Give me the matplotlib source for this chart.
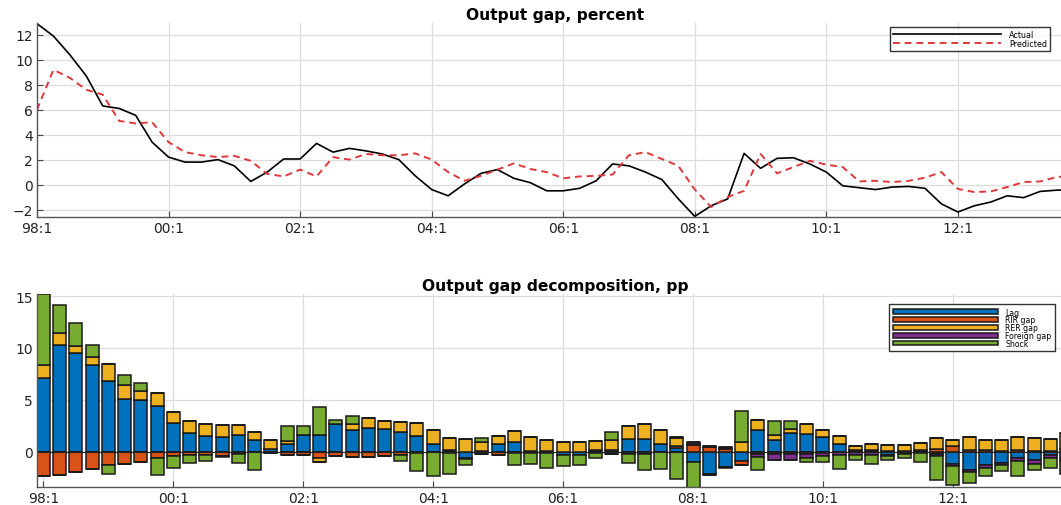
import numpy as np
import matplotlib
matplotlib.use("Agg")
import matplotlib.pyplot as plt

# quarterly data, 98:1 onward
actual = [12.9, 11.9, 10.4, 8.7, 6.3, 6.1, 5.55, 3.4, 2.2, 1.8,
          1.8, 2.0, 1.5, 0.25, 1.0, 2.05, 2.05, 3.3, 2.6, 2.9,
          2.7, 2.45, 2.0, 0.7, -0.4, -0.9, 0.05, 0.9, 1.2, 0.5,
          0.15, -0.5, -0.5, -0.3, 0.3, 1.65, 1.5, 1.0, 0.4, -1.15,
          -2.55, -1.7, -1.15, 2.5, 1.3, 2.1, 2.15, 1.65, 1.0, -0.1,
          -0.25, -0.4, -0.2, -0.15, -0.3, -1.55, -2.2, -1.7, -1.4, -0.9,
          -1.05, -0.55, -0.45, -0.4]
predicted = [6.0, 9.2, 8.55, 7.6, 7.2, 5.1, 4.9, 5.0, 3.4, 2.6,
             2.35, 2.2, 2.3, 1.9, 0.85, 0.65, 1.2, 0.65, 2.2, 2.0,
             2.45, 2.35, 2.35, 2.5, 2.0, 1.0, 0.3, 0.7, 1.2, 1.7,
             1.25, 1.0, 0.5, 0.65, 0.7, 0.8, 2.35, 2.6, 2.05, 1.5,
             -0.4, -1.8, -1.0, -0.5, 2.45, 0.9, 1.4, 1.9, 1.6, 1.4,
             0.25, 0.3, 0.2, 0.3, 0.55, 1.0, -0.35, -0.6, -0.55, -0.2,
             0.2, 0.25, 0.6, 0.7]

lag = [7.1, 10.3, 9.5, 8.4, 6.85, 5.1, 4.95, 4.4, 2.75, 1.8,
       1.5, 1.45, 1.65, 1.15, 0.25, 0.75, 1.65, 1.65, 2.7, 2.1,
       2.3, 2.2, 1.9, 1.55, 0.7, 0.2, -0.65, 0.05, 0.77, 0.93,
       0.1, 0.1, -0.3, -0.3, 0.2, 0.2, 1.25, 1.2, 0.75, 0.4,
       -1.0, -2.1, -1.5, -0.85, 2.05, 1.1, 1.8, 1.75, 1.4, 0.75,
       0.1, 0.2, -0.3, -0.15, 0.1, -0.2, -1.15, -1.75, -1.3, -1.05,
       -0.6, -0.75, -0.35, -0.6]
rir_gap = [-2.3, -2.2, -1.95, -1.65, -1.3, -1.15, -1.0, -0.6, -0.4, -0.3,
           -0.3, -0.45, -0.2, -0.05, -0.15, -0.35, -0.35, -0.6, -0.45, -0.5,
           -0.55, -0.45, -0.35, -0.15, -0.05, -0.1, -0.05, -0.25, -0.35, -0.1,
           -0.1, -0.15, -0.05, -0.05, -0.15, -0.2, -0.2, -0.2, -0.05, 0.15,
           0.6, 0.45, 0.3, -0.45, -0.2, -0.25, -0.25, -0.25, -0.15, -0.05,
           0.1, -0.05, 0.05, 0.1, 0.1, 0.25, 0.55, 0.2, 0.15, 0.1,
           0.2, 0.1, 0.1, 0.3]
rer_gap = [1.25, 1.15, 0.7, 0.75, 1.65, 1.3, 0.95, 1.25, 1.1, 1.2,
           1.2, 1.15, 0.95, 0.75, 0.85, 0.25, 0.0, -0.35, 0.0, 0.6,
           0.95, 0.75, 0.95, 1.2, 1.35, 1.1, 1.2, 0.9, 0.78, 1.07,
           1.3, 1.0, 0.9, 0.95, 0.8, 0.9, 1.25, 1.5, 1.3, 0.8,
           0.15, -0.15, 0.1, 0.95, 1.0, 0.55, 0.4, 0.95, 0.65, 0.8,
           0.35, 0.5, 0.55, 0.5, 0.65, 1.1, 0.55, 1.2, 0.95, 1.0,
           1.2, 1.25, 1.15, 1.5]
foreign_gap = [0, 0, 0, 0, 0, 0, 0, 0, 0, 0,
               0, 0, 0, 0, 0, 0, 0, 0, 0, 0,
               0, 0, 0, 0, 0, 0, 0, 0, 0, 0,
               0, 0, 0, 0, 0, 0, 0, 0, 0, 0.1,
               0.15, 0.1, 0.05, 0, -0.3, -0.5, -0.5, -0.35, -0.3, -0.25,
               -0.3, -0.3, -0.1, -0.1, -0.1, -0.2, -0.25, -0.2, -0.25, -0.25,
               -0.25, -0.4, -0.25, -0.3]
shock = [6.85, 2.7, 2.25, 1.15, -0.8, 0.95, 0.75, -1.6, -1.15, -0.8,
         -0.55, -0.1, -0.9, -1.7, 0.0, 1.5, 0.85, 2.7, 0.4, 0.75,
         0.0, 0.0, -0.5, -1.7, -2.3, -2.0, -0.55, 0.35, 0.0, -1.2,
         -1.1, -1.4, -1.0, -0.95, -0.5, 0.8, -0.85, -1.55, -1.6, -2.6,
         -2.45, 0.0, -0.1, 3.0, -1.25, 1.3, 0.75, -0.35, -0.55, -1.35,
         -0.45, -0.8, -0.35, -0.4, -0.9, -2.35, -1.85, -1.05, -0.8, -0.55,
         -1.45, -0.6, -0.95, -1.2]

comp_names = ["Lag", "RIR gap", "RER gap", "Foreign gap", "Shock"]
comp_colors = ["#0072BD", "#D95319", "#EDB120", "#7E2F8E", "#77AC30"]

n = len(actual)
x = np.arange(n)
tick_pos = np.arange(0, n, 8)
tick_lab = ["%02d:%d" % ((1998 + i // 4) % 100, i % 4 + 1) for i in tick_pos]

plt.rcParams["font.family"] = "DejaVu Sans"

fig = plt.figure(figsize=(10.61, 5.06), dpi=100)
W = 1061.0
H = 506.0
ax1 = fig.add_axes([37 / W, 1 - 218 / H, (1073 - 37) / W, (218 - 24) / H])
ax2 = fig.add_axes([37 / W, 1 - 488 / H, (1073 - 37) / W, (488 - 295) / H])


def style(ax):
    ax.grid(True, color="#dcdcdc", lw=0.9)
    ax.set_axisbelow(True)
    for s in ["top", "right"]:
        ax.spines[s].set_visible(False)
    for s in ["left", "bottom"]:
        ax.spines[s].set_color("#555555")
        ax.spines[s].set_linewidth(1.0)
    ax.tick_params(direction="in", length=4, color="#444444",
                   labelsize=10, labelcolor="#222222", pad=3)
    ax.set_xticks(tick_pos)
    ax.set_xticklabels(tick_lab)


# top: actual vs predicted
ax1.plot(x, actual, color="black", lw=1.2, label="Actual")
ax1.plot(x, predicted, color="#e0383a", lw=1.4, ls=(0, (3.5, 2.5)), label="Predicted")
style(ax1)
ax1.set_xlim(0, 63)
ax1.set_ylim(-2.6, 12.95)
ax1.set_yticks(np.arange(-2, 13, 2))
ax1.set_title("Output gap, percent", fontsize=11.2, fontweight="bold", pad=3)
leg1 = ax1.legend(loc="upper right", bbox_to_anchor=(0.978, 0.979), fontsize=5.8,
                  handlelength=13.5, frameon=True, fancybox=False, borderpad=0.35,
                  labelspacing=0.0, handletextpad=1.0, borderaxespad=0)
leg1.get_frame().set_edgecolor("black")
leg1.get_frame().set_linewidth(1.0)

# bottom: stacked contributions, positive and negative stacked separately
comps = [np.array(lag), np.array(rir_gap), np.array(rer_gap),
         np.array(foreign_gap), np.array(shock)]
pos_base = np.zeros(n)
neg_base = np.zeros(n)
for vals, name, col in zip(comps, comp_names, comp_colors):
    pos = np.where(vals > 0, vals, 0)
    neg = np.where(vals < 0, vals, 0)
    ax2.bar(x, pos, 0.8, bottom=pos_base, color=col, edgecolor="#1a1a1a",
            lw=1.1, label=name)
    ax2.bar(x, neg, 0.8, bottom=neg_base, color=col, edgecolor="#1a1a1a", lw=1.1)
    pos_base += pos
    neg_base += neg
ax2.axhline(0, color="#222222", lw=0.8)
style(ax2)
ax2.set_xlim(-0.4, 63.4)
ax2.set_ylim(-3.4, 15.2)
ax2.set_yticks([0, 5, 10, 15])
ax2.set_title("Output gap decomposition, pp", fontsize=11.2, fontweight="bold", pad=3)
leg2 = ax2.legend(loc="upper right", bbox_to_anchor=(0.9826, 0.948), fontsize=5.6,
                  handlelength=13.5, handleheight=0.55, frameon=True, fancybox=False,
                  borderpad=0.45, labelspacing=-0.15, handletextpad=1.0,
                  borderaxespad=0)
leg2.get_frame().set_edgecolor("black")
leg2.get_frame().set_linewidth(1.0)

fig.savefig("out.png", dpi=100)
